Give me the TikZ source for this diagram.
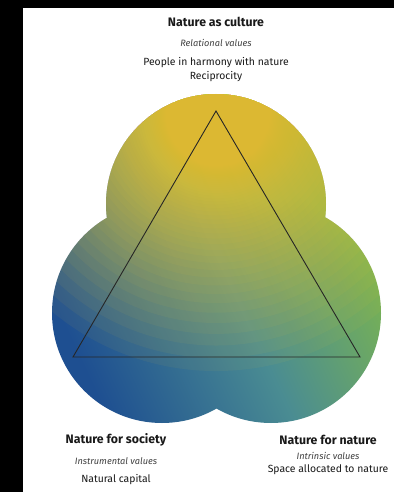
\documentclass[tikz,border=0pt]{standalone}
\usepackage{fontspec}
\setmainfont{Fira Sans}
\usetikzlibrary{positioning}
\definecolor{azulSociedad}{HTML}{1E4F91}
\definecolor{verdeNaturaleza}{HTML}{82BA46}
\definecolor{tealMedio}{HTML}{4A8C92}
\definecolor{amarilloCultura}{HTML}{ECC832}
\colorlet{colTexto}{black!90}
\colorlet{colValor}{black!75}
\tikzset{
  textoTitulo/.style={font=\fontsize{12.3}{14}\selectfont\bfseries, text=colTexto, inner sep=1pt},
  textoValor/.style={font=\fontsize{9.2}{11}\selectfont\itshape, text=colValor, inner sep=1pt},
  textoLista/.style={font=\fontsize{10.4}{14}\selectfont, text=colTexto, align=center, inner sep=1pt},
  lineaTriangulo/.style={draw=black!85, line width=0.9pt, line join=miter},
  capaAmarilla/.style={fill=amarilloCultura, fill opacity=0.06},
}

\begin{document}
\begin{tikzpicture}[x=1pt, y=-1pt]
    \fill[black] (0,0) rectangle (394,492);
    \fill[white] (23,8) rectangle (394,492);
    \useasboundingbox (0,0) rectangle (394,492);

    % three overlapping circles, shaded
    \begin{scope}
      \clip (216,204) circle (110pt) (162,313) circle (110pt) (271,313) circle (110pt);
      \shade[left color=azulSociedad, right color=verdeNaturaleza,
             middle color=tealMedio, shading angle=115]
        (50,90) rectangle (385,425);
      % yellow laid on in thin rings, thicker towards the top
      \foreach \k in {1,...,70} {
        \pgfmathsetmacro\radio{270-233*(1-0.94^\k)}
        \fill[capaAmarilla] (216,115) circle (\radio pt);
      }
    \end{scope}

    \coordinate (cima) at (216,111);
    \coordinate (baseIzq) at (73,357);
    \coordinate (baseDer) at (360,357);
    \draw[lineaTriangulo] (cima) -- (baseIzq) -- (baseDer) -- cycle;

    \node[textoTitulo] (cultura) at (216,22) {Nature as culture};
    \node[textoValor, on grid, below=21pt of cultura] (relacional) {Relational values};
    \node[textoLista, on grid, below=27pt of relacional] (armonia) {People in harmony with nature\\Reciprocity};

    \node[textoTitulo] (sociedad) at (116,440) {Nature for society};
    \node[textoValor, on grid, below=21pt of sociedad] (instrumental) {Instrumental values};
    \node[textoLista, on grid, below=19pt of instrumental] (capital) {Natural capital};

    \node[textoTitulo] (naturaleza) at (328,440) {Nature for nature};
    \node[textoValor, on grid, below=16pt of naturaleza] (intrinseco) {Intrinsic values};
    \node[textoLista, on grid, below=14pt of intrinseco] (espacio) {Space allocated to nature};
\end{tikzpicture}
\end{document}
